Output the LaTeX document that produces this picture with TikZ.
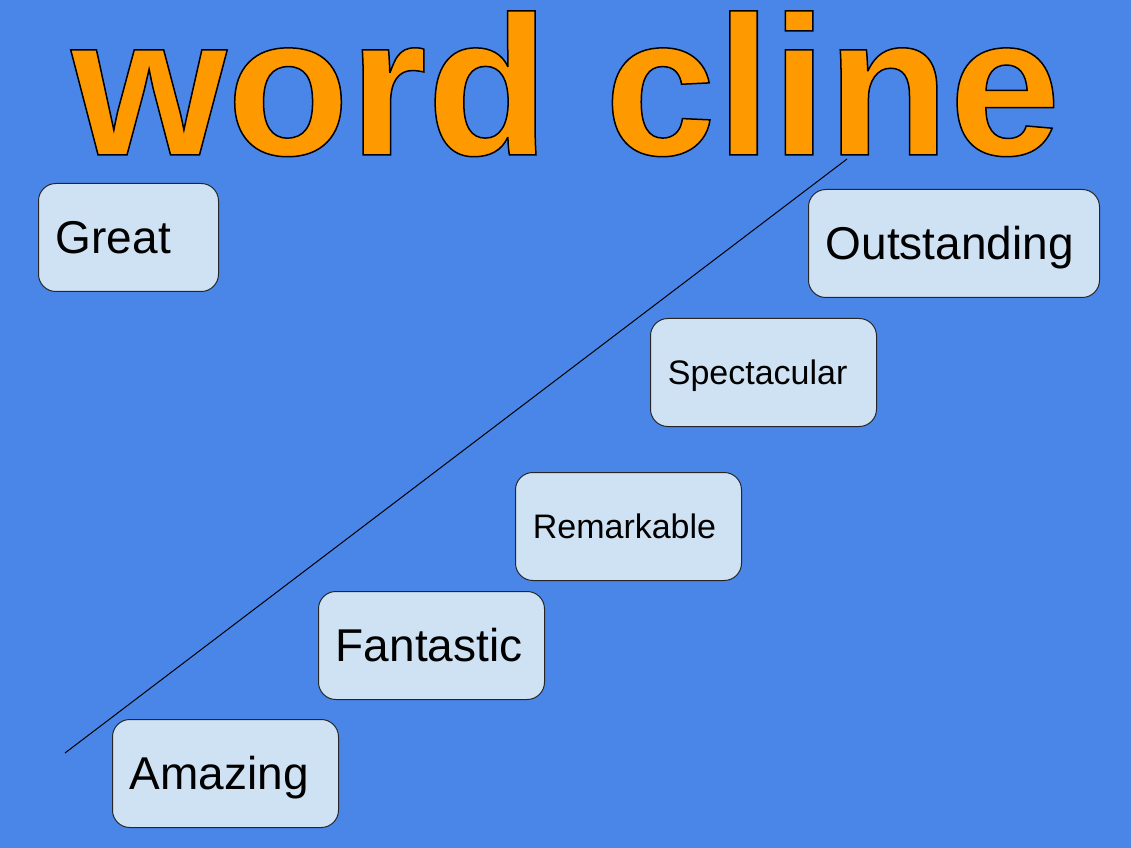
\documentclass[tikz,border=0pt]{standalone}
\usepackage{fontspec}
\setmainfont{Liberation Sans}
\usepackage{graphicx}
\definecolor{slideblue}{HTML}{4A86E8}
\definecolor{boxblue}{HTML}{CFE2F3}
\definecolor{titleorange}{HTML}{FF9900}
\begin{document}
\begin{tikzpicture}[x=0.75pt,y=-0.75pt]
\tikzstyle{wordbox}=[draw=black!85, line width=0.75pt, fill=boxblue, rounded corners=13pt, anchor=north west, minimum height=81pt, inner xsep=13pt, inner ysep=0pt, text depth=0pt, align=left]
\tikzstyle{bigword}=[wordbox, font=\fontsize{34.5}{40}\selectfont, text height=24.7pt]
\tikzstyle{smallword}=[wordbox, font=\fontsize{25.5}{30}\selectfont, text height=18.3pt]
\fill [slideblue] (0,0) rectangle (1131,848);
\coordinate (clinelow) at (65,753);
\coordinate (clinehigh) at (847,159);
\draw [black, line width=0.75pt] (clinelow) -- (clinehigh);
\node [anchor=south west, inner sep=0pt, text=titleorange] (title) at (71,157) {\resizebox{741.75pt}{108pt}{\fontsize{20}{24}\selectfont\bfseries\special{pdf:literal direct 0 G 2 Tr 0.15 w}word cline\special{pdf:literal direct 0 Tr}}};
\node [bigword, text width=109pt] (great) at (38,183) {Great};
\node [bigword, text width=192.25pt] (outstanding) at (808,189) {Outstanding};
\node [smallword, text width=143.5pt] (spectacular) at (650,318) {Spectacular};
\node [smallword, text width=143.5pt] (remarkable) at (515,472) {Remarkable};
\node [bigword, text width=143.5pt] (fantastic) at (318,591) {Fantastic};
\node [bigword, text width=143.5pt] (amazing) at (112,719) {Amazing};
\end{tikzpicture}
\end{document}
